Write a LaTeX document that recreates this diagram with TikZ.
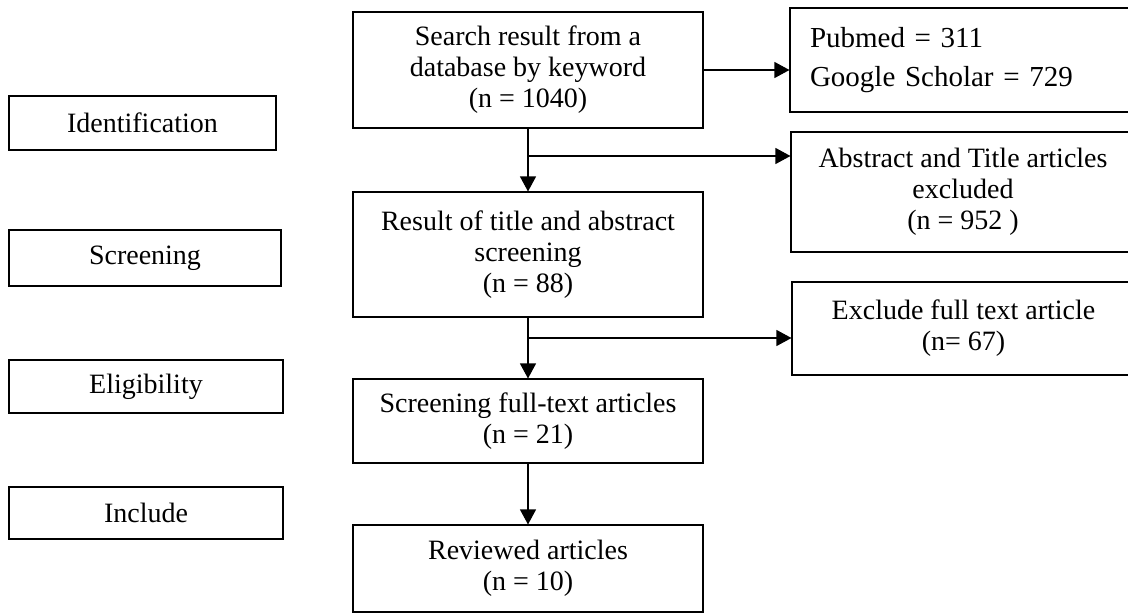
\documentclass[tikz,border=0pt]{standalone}
\usepackage{fontspec}
\setmainfont{Liberation Serif}
\usetikzlibrary{arrows.meta}
\begin{document}
\begin{tikzpicture}[x=1pt,y=-1pt,line width=1.1pt,
  every node/.style={draw,rectangle,align=center,inner sep=0pt,font=\fontsize{28}{31}\selectfont},
  >={Triangle[length=15pt,width=16pt]}]
\useasboundingbox (0,0) rectangle (1128,613);
\clip (0,0) rectangle (1128,613);
\node[minimum width=267pt,minimum height=54pt] (p0) at (142.5,123) {Identification};
\node[minimum width=272pt,minimum height=56pt] (p1) at (145,258) {Screening};
\node[minimum width=274pt,minimum height=53pt] (p2) at (146,386.5) {Eligibility};
\node[minimum width=274pt,minimum height=52pt] (p3) at (146,513) {Include};
\node[minimum width=350pt,minimum height=116pt] (s0) at (528,70) {Search result from a\\database by keyword\\(n = 1040)};
\node[minimum width=350pt,minimum height=125pt] (s1) at (528,254.5) {Result of title and abstract\\screening\\(n = 88)};
\node[minimum width=350pt,minimum height=84pt] (s2) at (528,421) {Screening full-text articles\\(n = 21)};
\node[minimum width=350pt,minimum height=87pt] (s3) at (528,568.5) {Reviewed articles\\(n = 10)};
\node[minimum height=104pt,text width=305pt,inner xsep=20pt,align=left,font=\fontsize{29}{39}\selectfont] (e0) at (962.5,60) {Pubmed = 311\\Google Scholar = 729};
\node[minimum width=344pt,minimum height=120pt] (e1) at (963,192) {Abstract and Title articles\\excluded\\(n = 952 )};
\node[minimum width=343pt,minimum height=93pt] (e2) at (963.5,328.5) {Exclude full text article\\(n= 67)};
\coordinate (b0) at (528,156);
\coordinate (b1) at (528,338);
\draw[->] (s0.east) -- (s0.east -| e0.west);
\draw[->] (s0) -- (s1);
\draw[->] (b0) -- (b0 -| e1.west);
\draw[->] (s1) -- (s2);
\draw[->] (b1) -- (b1 -| e2.west);
\draw[->] (s2) -- (s3);
\end{tikzpicture}
\end{document}
